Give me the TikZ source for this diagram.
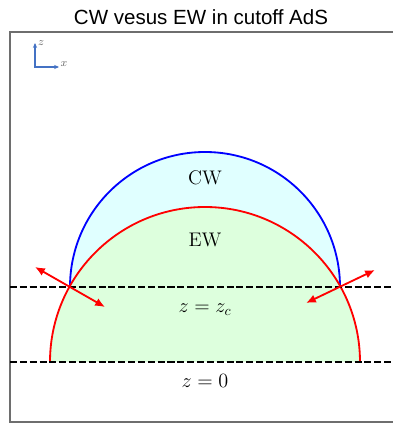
\documentclass[tikz,border=0pt]{standalone}
\usepackage{fontspec}
\newfontfamily\titlefont{Liberation Sans}
\usetikzlibrary{arrows.meta}
\definecolor{cwcol}{RGB}{0,0,255}
\definecolor{ewcol}{RGB}{255,0,0}
\definecolor{cwfill}{RGB}{224,255,255}
\definecolor{ewfill}{RGB}{221,255,221}
\definecolor{axcol}{RGB}{68,114,196}
\definecolor{framecol}{RGB}{110,110,110}

\begin{document}
\begin{tikzpicture}[x=0.025cm,y=0.025cm,
  cutline/.style={black,line width=1.5pt,dash pattern=on 5pt off 2pt},
  wedge/.style={line width=1.3pt},
  flip/.style={ewcol,line width=1.3pt,{Latex[length=7pt,width=6pt]}-{Latex[length=7pt,width=6pt]}},
  lab/.style={font=\fontsize{14}{16}\selectfont},
  axlab/.style={black!60,font=\fontsize{8}{9}\selectfont,inner sep=0.5pt}]
\useasboundingbox (0,0) rectangle (393,423);
% frame and title
\draw[framecol,line width=0.8pt] (393,391) -- (10,391) -- (10,1) -- (393,1);
\node[font=\titlefont\fontsize{14.6}{17}\selectfont] (title) at (201,406) {CW vesus EW in cutoff AdS};
% axes icon
\coordinate (o) at (35,356);
\coordinate (zt) at (35,380);
\coordinate (xt) at (59,356);
\draw[axcol,line width=0.9pt,-{Stealth[length=3.5pt,width=3pt]}] (o) -- (zt);
\draw[axcol,line width=0.9pt,-{Stealth[length=3.5pt,width=3pt]}] ([xshift=-0.45pt]o) -- (xt);
\node[axlab,anchor=west] (zlab) at ([xshift=1.5pt]zt) {$z$};
\node[axlab,anchor=south west] (xlab) at ([xshift=0.5pt]xt) {$x$};
% wedges
\fill[cwfill] (70,136) arc[start angle=180,end angle=0,radius=135] -- cycle;
\fill[ewfill] (50,61) arc[start angle=180,end angle=0,radius=155] -- cycle;
\draw[cwcol,wedge] (70,136) arc[start angle=180,end angle=0,radius=135];
\draw[ewcol,wedge] (50,61) arc[start angle=180,end angle=0,radius=155];
% cutoff surfaces
\coordinate (c0l) at (10,61);
\coordinate (c0r) at (393,61);
\coordinate (ccl) at (10,136);
\coordinate (ccr) at (393,136);
\draw[cutline] (c0l) -- (c0r);
\draw[cutline] (ccl) -- (ccr);
% labels
\node[lab] (cw) at (205,245) {CW};
\node[lab] (ew) at (205,183) {EW};
\node[lab] (zc) at (205,113) {$z=z_c$};
\node[lab] (z0) at (205,42) {$z=0$};
% normal arrows at the crossings
\coordinate (lout) at (35,156);
\coordinate (lin) at (105,116);
\coordinate (rout) at (375,153);
\coordinate (rin) at (306,120);
\draw[flip] (lout) -- (lin);
\draw[flip] (rout) -- (rin);
\end{tikzpicture}
\end{document}
